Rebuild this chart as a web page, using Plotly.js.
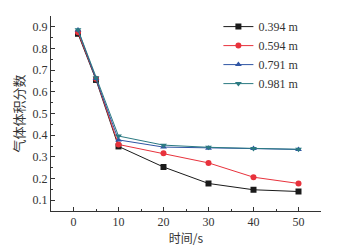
<!DOCTYPE html>
<html><head><meta charset="utf-8">
<script src="https://cdn.plot.ly/plotly-3.0.1.min.js"></script>
<style>html,body{margin:0;padding:0;background:#fff}#c{width:342px;height:247px}</style>
</head><body><div id="c"></div>
<script>
const times = [1, 5, 10, 20, 30, 40, 50];
const seriesNames = ['0.394 m', '0.594 m', '0.791 m', '0.981 m'];
const s394 = [0.868, 0.655, 0.348, 0.253, 0.177, 0.148, 0.140];
const s594 = [0.875, 0.66, 0.357, 0.316, 0.272, 0.206, 0.177];
const s791 = [0.885, 0.662, 0.378, 0.345, 0.340, 0.338, 0.334];
const s981 = [0.887, 0.665, 0.396, 0.354, 0.344, 0.339, 0.335];
const yTitle = '气体体积分数';
const xTitle = '时间/s';
const colors = ['#1a1a1a', '#e8323c', '#2f55a4', '#2b7a82'];
const symbols = ['square', 'circle', 'triangle-up', 'triangle-down'];
const vals = [s394, s594, s791, s981];
const traces = vals.map((v, i) => ({
  x: times, y: v, name: seriesNames[i], type: 'scatter', mode: 'lines+markers',
  line: {color: colors[i], width: 1},
  marker: {symbol: symbols[i], size: 6, color: colors[i]}
}));
const tickFont = {family: 'Liberation Serif, serif', size: 12, color: '#333'};
const layout = {
  width: 342, height: 247,
  margin: {l: 51, r: 21, t: 12, b: 36},
  paper_bgcolor: '#fff', plot_bgcolor: '#fff',
  showlegend: true,
  legend: {x: 0.62, y: 1.02, xanchor: 'left', yanchor: 'top', bgcolor: 'rgba(0,0,0,0)',
    font: {family: 'Liberation Serif, serif', size: 12, color: '#333'}, tracegroupgap: 0, itemwidth: 30},
  xaxis: {
    range: [-5, 55], tickvals: [0, 10, 20, 30, 40, 50], ticks: 'inside', ticklen: 4, tickwidth: 1,
    minor: {dtick: 5, ticks: 'inside', ticklen: 2, tickcolor: '#333'},
    showline: true, linecolor: '#333', linewidth: 1, tickcolor: '#333', showgrid: false, zeroline: false,
    tickfont: tickFont,
    title: {text: xTitle, font: {family: 'Noto Sans CJK SC, serif', size: 12, color: '#333'}, standoff: 2}
  },
  yaxis: {
    range: [0.05, 0.95], tickvals: [0.1,0.2,0.3,0.4,0.5,0.6,0.7,0.8,0.9], ticks: 'inside', ticklen: 4, tickwidth: 1,
    minor: {dtick: 0.05, ticks: 'inside', ticklen: 2, tickcolor: '#333'},
    showline: true, linecolor: '#333', linewidth: 1, tickcolor: '#333', showgrid: false, zeroline: false,
    tickfont: tickFont
  },
  annotations: [{
    text: yTitle, xref: 'paper', yref: 'paper', x: -0.122, y: 0.5, xanchor: 'center', yanchor: 'middle',
    textangle: -90, showarrow: false, font: {family: 'Noto Sans CJK SC, serif', size: 13, color: '#333'}
  }]
};
Plotly.newPlot('c', traces, layout, {displayModeBar: false, staticPlot: true});
</script></body></html>
